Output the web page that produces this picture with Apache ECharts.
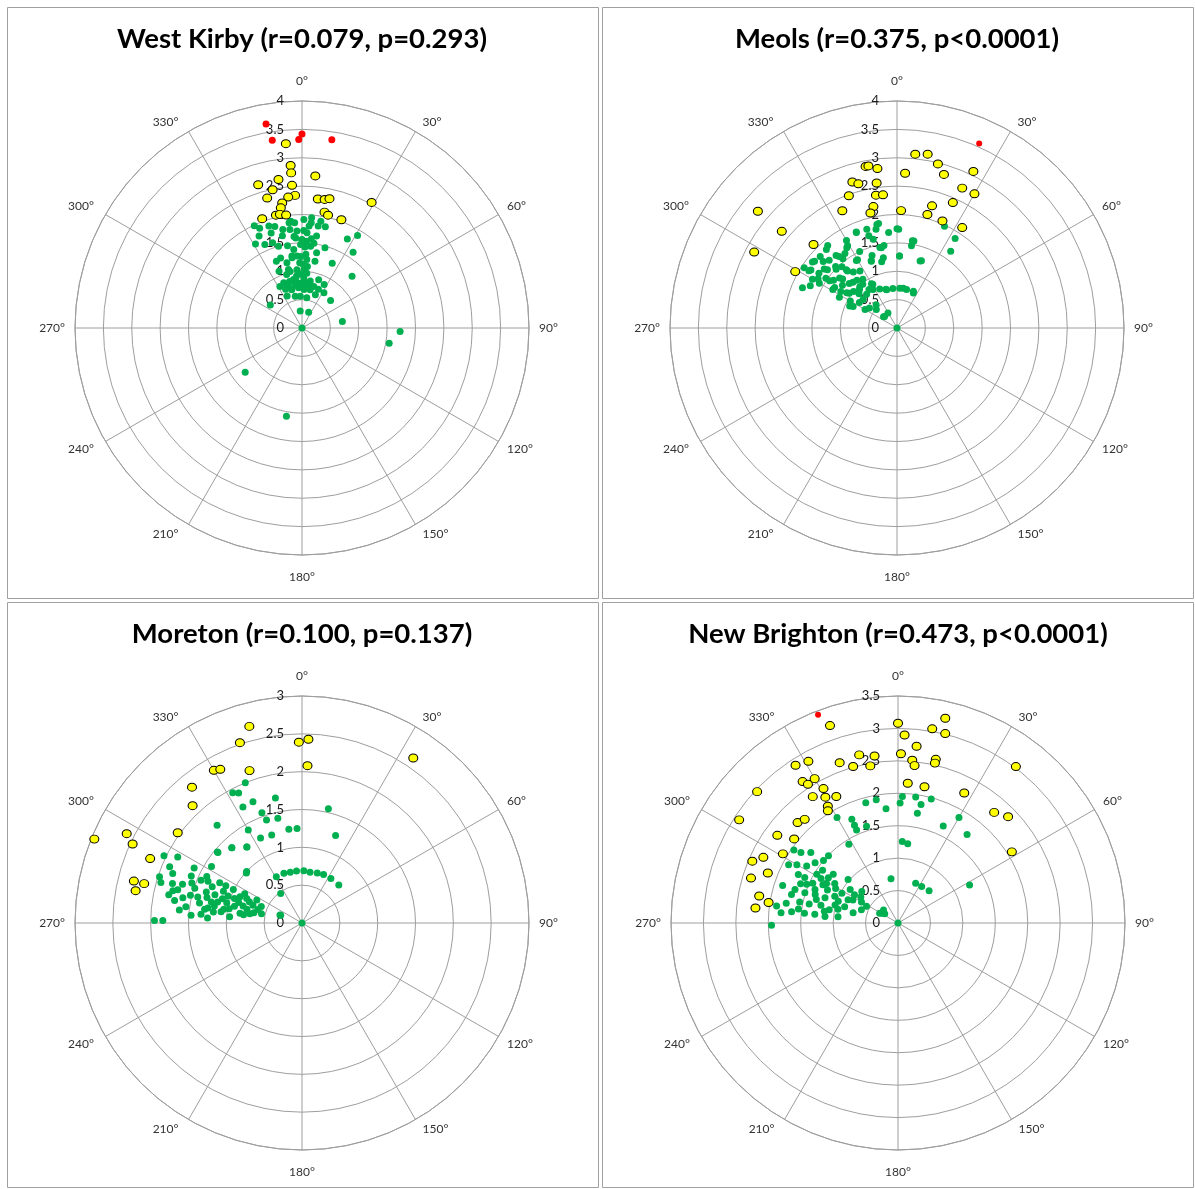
<!DOCTYPE html>
<html>
<head>
<meta charset="utf-8">
<title>Wind direction vs. level — four sites</title>
<script src="https://cdn.jsdelivr.net/npm/echarts@6/dist/echarts.min.js"></script>
<style>
  html, body { margin: 0; padding: 0; background: #fff; }
  #chart { width: 1195px; height: 1189px; }
</style>
</head>
<body>
<div id="chart"></div>
<script>
// Each point is [radius, angle in degrees], angle measured clockwise from north.

// ---- West Kirby ----
const westKirbyTitle = 'West Kirby (r=0.079, p=0.293)';
const westKirbyMax = 4;
const westKirbyGreen = [
  [1.99,335],[1.91,337],[1.89,342],[1.85,345],[1.87,353],[1.86,356],[1.91,1],[1.95,5],[1.80,4],[1.82,9],
  [1.83,13],[1.76,342],[1.66,348],[1.75,353],[1.71,357],[1.68,3],[1.64,9],[1.90,31],[1.76,27],[1.79,335],
  [1.69,331],[1.61,336],[1.59,341],[1.50,344],[1.47,350],[1.39,354],[1.47,359],[1.53,3],[1.51,8],[1.35,11],
  [1.47,16],[1.61,34],[1.26,339],[1.18,347],[1.27,356],[1.30,3],[1.20,11],[1.26,25],[1.08,338],[1.02,348],
  [1.03,355],[1.09,5],[0.98,344],[0.92,354],[0.97,5],[0.90,19],[1.27,44],[0.86,338],[0.77,342],[0.77,351],
  [0.79,358],[0.80,6],[0.76,16],[0.74,337],[0.70,345],[0.71,355],[0.68,3],[0.69,12],[0.73,32],[0.70,46],
  [0.62,335],[0.56,357],[0.63,22],[0.69,306],[0.30,354],[0.30,23],[0.72,81],[1.73,92],[1.56,100],[1.27,232],
  [1.58,190],[0,0],[1.62,355],[1.55,0],[1.43,2],[1.28,352],[1.15,358],[0.95,359],[0.82,353],[0.88,2],
  [1.12,1],[1.58,6],[1.72,1],[0.74,9],[0.85,345],
  [0.76,0],[0.74,4],[0.87,350],[0.84,10],[1.03,2],[1.26,359],[1.25,352],[1.45,6],[1.56,0],[1.59,356],
  [1.77,349],[1.89,354],[1.86,5],[1.91,10],[1.29,343],[1.21,4],[1.06,347],[0.83,332],[0.57,348],[0.54,9],
  [0.74,23],[0.86,27]
];
const westKirbyYellow = [
  [3.26,355],[2.87,356],[2.74,356],[2.69,5],[2.65,351],[2.64,343],[2.52,356],[2.49,348],[2.34,357],[2.32,354],
  [2.37,345],[2.29,7],[2.30,10],[2.33,12],[2.53,29],[2.23,351],[2.15,350],[2.08,11],[2.04,13],[2.03,20],
  [2.05,340],[2.04,347],[2.04,349],[2.01,352]
];
const westKirbyRed = [[3.65,350],[3.35,351],[3.32,359],[3.42,0],[3.36,9]];

// ---- Meols ----
const meolsTitle = 'Meols (r=0.375, p<0.0001)';
const meolsMax = 4;
const meolsGreen = [
  [1.87,350],[1.78,348],[1.75,360],[1.83,337],[1.70,343],[1.98,25],[1.88,33],[1.65,35],[1.56,10],[1.47,10],
  [1.26,20],[1.27,2],[1.47,351],[1.45,348],[1.69,329],[1.90,320],[1.85,313],[1.67,320],[1.55,322],[1.39,329],
  [1.27,339],[1.20,347],[1.89,308],[1.85,303],[1.65,309],[1.49,314],[1.33,319],[1.20,327],[1.81,293],[1.64,302],
  [1.45,305],[1.29,312],[1.12,316],[0.98,322],[1.32,301],[1.18,303],[1.04,306],[0.95,316],[0.84,324],[0.88,331],
  [0.75,336],[0.71,344],[0.70,354],[0.70,4],[0.70,14],[0.68,25],[0.92,295],[0.80,304],[0.60,306],[0.49,312],
  [0.30,313],[0.31,329],[0,0],
  [1.84,337],[1.82,343],[1.86,349],[1.69,355],[1.74,1],[1.56,11],[1.25,19],[1.27,2],[1.26,349],[1.26,339],
  [1.44,349],[1.39,330],[1.67,328],[1.86,318],[1.69,315],[1.62,321],[1.53,315],[1.36,319],[1.87,309],[1.83,304],
  [1.68,305],[1.53,305],[1.34,311],[1.15,313],[0.98,318],[1.31,303],[1.08,305],[0.86,296],[0.78,310],[0.80,328],
  [0.70,345],[0.71,9],[0.71,24],[0.31,310],
  [1.75,312],[1.60,310],[1.45,318],[1.25,322],[1.10,320],[1.40,307],[1.58,300],[1.72,300],[1.22,308],[1.00,310],
  [0.90,312],[0.95,300],[1.15,298],[1.05,325],[0.90,330],[1.60,325],[1.78,330],[1.50,334],[1.35,341],[1.62,345],
  [0.55,318],[0.65,300],[0.80,318],[1.95,303],[1.70,296]
];
const meolsYellow = [
  [3.08,6],[3.11,10],[2.98,14],[2.83,17],[3.07,26],[2.72,25],[2.73,30],[2.42,24],[2.24,16],[2.07,15],
  [2.05,23],[2.11,33],[2.73,3],[2.07,2],[2.90,349],[2.90,350],[2.83,353],[2.69,343],[2.63,345],[2.58,352],
  [2.48,340],[2.37,351],[2.36,354],[2.18,349],[2.28,335],[2.08,347],[2.65,310],[2.08,315],[2.05,299],[3.20,310],
  [2.85,298]
];
const meolsRed = [[3.56,24]];

// ---- Moreton ----
const moretonTitle = 'Moreton (r=0.100, p=0.137)';
const moretonMax = 3;
const moretonGreen = [
  [2.00,338],[1.95,332],[1.91,334],[1.73,338],[1.72,333],[1.69,348],[1.55,13],[1.24,21],[1.55,340],[1.44,341],
  [1.42,347],[1.71,319],[1.25,352],[1.25,357],[1.42,330],[1.25,334],[1.23,341],[1.36,317],[1.24,324],[1.45,310],
  [0.99,312],[0.70,331],[0.70,340],[0.69,347],[0.69,354],[0.69,2],[0.68,9],[0.69,17],[0.70,24],[0.70,33],
  [0.70,44],[0.48,324],[0.30,290],[0,0],
  [2.03,296],[1.86,298],[1.98,288],[1.94,286],[1.83,291],[1.79,287],[1.76,284],[1.66,288],[1.61,282],[1.71,280],
  [1.63,276],[1.59,293],[1.49,288],[1.42,284],[1.45,293],[1.36,294],[1.33,288],[1.23,283],[1.47,274],[1.26,279],
  [1.46,310],[1.36,317],[1.24,324],[1.41,302],[1.12,292],[1.15,284],[1.03,285],[0.96,275],[1.01,296],[0.89,293],
  [0.92,284],[0.81,286],[0.80,294],[0.69,290],[0.61,287],[1.00,313],[1.95,271],[1.84,271],[0.31,290],
  [1.55,278],[1.34,275],[1.21,288],[1.08,278],[0.83,279],[0.70,280],[0.67,297],[1.21,296],[1.90,293],[1.04,290],
  [1.25,273],
  [1.52,284],[1.38,281],[1.30,285],[1.18,281],[1.10,287],[0.98,281],[0.88,288],[0.75,284],[0.65,282],[0.58,292],
  [1.70,285],[1.55,290],[1.40,296],[1.28,292],[1.12,296],[0.95,290],[0.85,297],[0.75,292],[1.60,297],[1.80,282],
  [1.05,280],[0.78,278],[0.55,283],[1.30,278],[1.18,277]
];
const moretonYellow = [
  [2.69,345],[2.52,341],[2.39,359],[2.43,2],[2.08,2],[2.33,330],[2.30,332],[2.13,341],[2.31,321],[2.12,317],
  [2.03,306],[2.96,292],[2.60,297],[2.47,295],[2.18,293],[2.29,284],[2.15,284],[2.24,281],[2.63,34]
];

// ---- New Brighton ----
const newBrightonTitle = 'New Brighton (r=0.473, p<0.0001)';
const newBrightonMax = 3.5;
const newBrightonGreen = [
  [1.92,345],[1.93,350],[1.77,354],[1.95,2],[1.85,1],[1.96,8],[1.86,11],[1.98,15],[1.72,10],[1.88,30],
  [1.65,25],[1.73,38],[1.88,330],[1.75,336],[1.57,336],[1.57,342],[1.43,328],[1.26,3],[1.23,7],[0.69,351],
  [0.67,24],[0.67,33],[0.69,44],[1.25,62],[0.32,298],[0.30,312],[0,0],[1.65,336],[0.25,305],
  [1.96,305],[1.73,309],[1.49,314],[1.50,310],[1.91,298],[1.66,302],[1.71,296],[1.46,301],[1.37,300],[1.25,307],
  [1.26,299],[1.15,302],[1.53,293],[1.38,292],[1.87,288],[1.67,288],[1.51,288],[1.75,280],[1.55,282],[1.89,278],
  [1.81,275],[1.65,276],[1.45,276],[1.31,286],[1.19,289],[1.06,293],[0.98,298],[0.90,305],[0.78,297],[0.65,300],
  [0.74,311],[0.86,287],[1.01,286],[1.13,275],[0.93,276],[1.29,276],[0.71,283],[1.02,311],[1.95,269],[0.29,301],
  [1.60,296],[1.42,305],[1.30,297],[1.20,295],[1.10,299],[1.35,289],[1.22,283],[1.08,281],[0.95,283],[0.85,295],
  [0.80,303],[0.70,305],[1.58,306],[1.80,300],[1.70,285],[1.40,282],[1.15,279],[0.98,290],[1.45,295],[1.62,292],
  [0.60,290],[0.55,298],[1.85,306],[1.55,278],[1.28,303]
];
const newBrightonYellow = [
  [3.22,341],[3.08,0],[3.24,13],[3.04,10],[3.01,14],[2.90,2],[2.74,6],[2.61,1],[2.52,5],[2.44,6],
  [2.59,13],[2.53,13],[3.02,37],[2.16,4],[2.14,11],[2.25,27],[2.26,41],[2.36,46],[2.07,58],[2.60,352],
  [2.46,350],[2.66,347],[2.51,344],[2.63,340],[2.85,331],[2.90,327],[2.57,330],[2.63,326],[2.55,327],[2.37,331],
  [2.35,326],[2.24,330],[2.17,334],[2.10,329],[2.04,328],[2.97,313],[2.92,303],[2.19,315],[2.15,318],[2.30,306],
  [2.06,309],[2.07,301],[2.44,293],[2.31,296],[2.37,287],[2.15,291],[2.18,281],[2.02,279],[2.21,276]
];
const newBrightonRed = [[3.44,339]];

// ---- layout ----
const GREEN = '#00b050', YELLOW = '#ffff00', RED = '#ff0000';
const GRID = '#9e9e9e';
const FONT = 'Lato, "Open Sans", sans-serif';
const R = 227;

const panels = [
  { title: westKirbyTitle,   max: westKirbyMax,   cx: 302, cy: 328, box: [7, 7],     green: westKirbyGreen,   yellow: westKirbyYellow,   red: westKirbyRed,   redSize: 7 },
  { title: meolsTitle,       max: meolsMax,       cx: 897, cy: 328, box: [602, 7],   green: meolsGreen,       yellow: meolsYellow,       red: meolsRed,       redSize: 6 },
  { title: moretonTitle,     max: moretonMax,     cx: 302, cy: 923, box: [7, 602],   green: moretonGreen,     yellow: moretonYellow,     red: [],             redSize: 6 },
  { title: newBrightonTitle, max: newBrightonMax, cx: 898, cy: 923, box: [602, 602], green: newBrightonGreen, yellow: newBrightonYellow, red: newBrightonRed, redSize: 6 }
];

// angle labels: compass points sit a little further out; diagonal labels are nudged sideways
const angleLabelFont = { fontFamily: FONT, fontSize: 12, color: '#333' };
const angleLabelRich = {
  n: Object.assign({ padding: [0, 0, 10, 0] }, angleLabelFont),
  s: Object.assign({ padding: [12, 0, 0, 0] }, angleLabelFont),
  e: Object.assign({ padding: [0, 0, 0, 6] }, angleLabelFont),
  w: Object.assign({ padding: [0, 6, 0, 0] }, angleLabelFont),
  r: Object.assign({ padding: [0, 0, 0, 5] }, angleLabelFont),
  l: Object.assign({ padding: [0, 8, 0, 0] }, angleLabelFont)
};
function angleLabel(v) {
  if (v === 360) return '';
  let key;
  if (v === 0) key = 'n';
  else if (v === 180) key = 's';
  else if (v === 90) key = 'e';
  else if (v === 270) key = 'w';
  else key = v < 180 ? 'r' : 'l';
  return '{' + key + '|' + v + '°}';
}

const option = {
  animation: false,
  backgroundColor: '#fff',
  title: [], polar: [], angleAxis: [], radiusAxis: [], series: [], graphic: []
};

panels.forEach((p, i) => {
  option.graphic.push({
    type: 'rect', z: -1, silent: true,
    shape: { x: p.box[0] + 0.5, y: p.box[1] + 0.5, width: 591, height: 585 + (p.box[1] > 300 ? 0 : 6) },
    style: { fill: 'none', stroke: '#a0a0a0', lineWidth: 1 }
  });
  option.title.push({
    text: p.title, left: p.cx - 5, top: p.cy - 308, textAlign: 'center',
    textStyle: { fontFamily: FONT, fontSize: 27.5, fontWeight: 'bold', color: '#000' }
  });
  option.polar.push({ center: [p.cx, p.cy], radius: R });
  option.angleAxis.push({
    polarIndex: i, type: 'value', min: 0, max: 360, interval: 30,
    startAngle: 90, clockwise: true,
    axisLine: { show: true, lineStyle: { color: GRID, width: 1 } },
    axisTick: { show: false },
    axisLabel: {
      margin: 4, color: '#333', fontFamily: FONT, fontSize: 12,
      formatter: angleLabel, rich: angleLabelRich
    },
    splitLine: { show: true, lineStyle: { color: GRID, width: 1 } }
  });
  option.radiusAxis.push({
    polarIndex: i, type: 'value', min: 0, max: p.max, interval: 0.5,
    axisLine: { show: false }, axisTick: { show: false },
    axisLabel: { margin: 18, color: '#1a1a1a', fontFamily: FONT, fontSize: 13 },
    splitLine: { show: true, lineStyle: { color: GRID, width: 1 } }
  });
  option.series.push({
    type: 'scatter', coordinateSystem: 'polar', polarIndex: i, data: p.green,
    symbol: 'circle', symbolSize: 7, itemStyle: { color: GREEN, opacity: 1 }, z: 2
  });
  option.series.push({
    type: 'scatter', coordinateSystem: 'polar', polarIndex: i, data: p.yellow,
    symbol: 'circle', symbolSize: [9, 8],
    itemStyle: { color: YELLOW, borderColor: '#000', borderWidth: 1, opacity: 1 }, z: 3
  });
  if (p.red.length) {
    option.series.push({
      type: 'scatter', coordinateSystem: 'polar', polarIndex: i, data: p.red,
      symbol: 'circle', symbolSize: p.redSize, itemStyle: { color: RED, opacity: 1 }, z: 4
    });
  }
});

const chart = echarts.init(document.getElementById('chart'), null, { renderer: 'canvas' });
chart.setOption(option);
</script>
</body>
</html>
